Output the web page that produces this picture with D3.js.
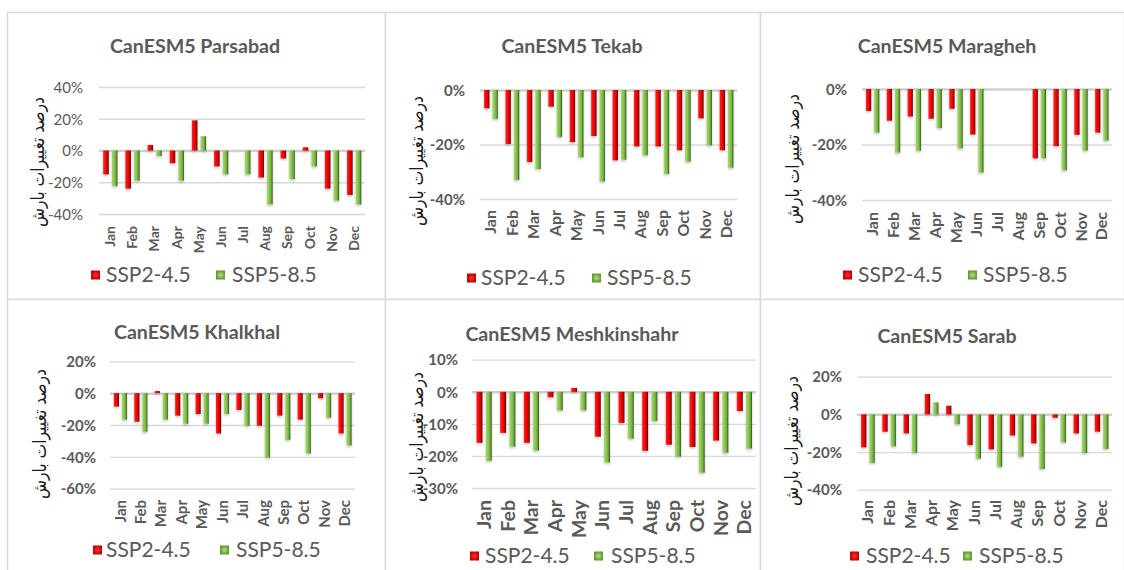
<!DOCTYPE html>
<html>
<head>
<meta charset="utf-8">
<script src="https://cdn.jsdelivr.net/npm/d3@7/dist/d3.min.js"></script>
<style>
  html, body { margin: 0; padding: 0; background: #fff; }
  svg { display: block; }
</style>
</head>
<body>
<svg id="chart" width="1124" height="570"></svg>
<script>
// ---------------- DATA ----------------
const months = ["Jan","Feb","Mar","Apr","May","Jun","Jul","Aug","Sep","Oct","Nov","Dec"];
const seriesNames = ["SSP2-4.5","SSP5-8.5"];
const stationTitles = ["CanESM5 Parsabad","CanESM5 Tekab","CanESM5 Maragheh","CanESM5 Khalkhal","CanESM5 Meshkinshahr","CanESM5 Sarab"];
const yAxisTitle = "درصد تغییرات بارش";

// percent change in precipitation
const parsabadSSP245 = [-15, -24, 3.5, -8, 19, -10, 0, -17, -5, 2, -24, -28];
const parsabadSSP585 = [-22.5, -19, -3.5, -19, 9, -15, -15, -34, -18, -10, -31.5, -34];
const tekabSSP245 = [-6.7, -19.8, -26.4, -6.1, -19.1, -16.9, -25.8, -20.7, -20.7, -22.1, -10.4, -22.1];
const tekabSSP585 = [-10.6, -33, -29, -17.2, -24.7, -33.6, -25.6, -24, -30.8, -26.3, -20.3, -28.5];
const maraghehSSP245 = [-7.9, -11.4, -9.9, -10.7, -7.1, -16.4, 0, 0, -25, -20.6, -16.5, -15.7];
const maraghehSSP585 = [-15.7, -22.9, -22.2, -14.1, -21.4, -30.1, 0, 0, -25, -29.3, -22.2, -18.6];
const khalkhalSSP245 = [-8.4, -17.9, 1.3, -14.1, -13.1, -25.3, -10.5, -20.4, -14.1, -16.6, -3.2, -25.3];
const khalkhalSSP585 = [-16.6, -24.2, -16.6, -19.2, -19.2, -13.1, -20.4, -40.4, -29.3, -37.9, -15.4, -32.8];
const meshkinshahrSSP245 = [-15.9, -12.8, -15.9, -1.7, 1.2, -14, -9.7, -18.4, -16.5, -17.2, -15.2, -6];
const meshkinshahrSSP585 = [-21.5, -17.1, -18.3, -5.8, -5.8, -22, -14.6, -9.1, -20.2, -25.2, -19, -17.7];
const sarabSSP245 = [-17.5, -9.2, -10.1, 10.8, 4.6, -16.3, -18.6, -11.2, -15.4, -1.8, -10.1, -9.2];
const sarabSSP585 = [-25.8, -17, -20.4, 6.4, -5.3, -23.5, -27.8, -22.5, -29, -14.9, -20.5, -18.4];

// tick values (percent)
const parsabadTicks = [40, 20, 0, -20, -40];
const tekabTicks = [0, -20, -40];
const maraghehTicks = [0, -20, -40];
const khalkhalTicks = [20, 0, -20, -40, -60];
const meshkinshahrTicks = [10, 0, -10, -20, -30];
const sarabTicks = [20, 0, -20, -40];

// ---------------- LAYOUT (positions/styles only) ----------------
const panels = [
  { title: stationTitles[0], s1: parsabadSSP245, s2: parsabadSSP585, ticks: parsabadTicks,
    box: [7, 12, 378, 287], titleXY: [195, 53], px: [99, 365], py: [87, 214], tickX: 83, tickBold: false,
    yt: [38, 162], monthTop: 226, monthSize: 14, leg: { y: 275, r: 91, rt: 106, g: 216, gt: 232 } },
  { title: stationTitles[1], s1: tekabSSP245, s2: tekabSSP585, ticks: tekabTicks,
    box: [385, 12, 375, 287], titleXY: [572, 53], px: [480, 737], py: [90, 199], tickX: 465, tickBold: true,
    yt: [417, 161], monthTop: 210, monthSize: 16, leg: { y: 278, r: 467, rt: 481, g: 592, gt: 607 } },
  { title: stationTitles[2], s1: maraghehSSP245, s2: maraghehSSP585, ticks: maraghehTicks,
    box: [760, 12, 364, 287], titleXY: [947, 53], px: [862, 1112], py: [89, 200], tickX: 847, tickBold: true,
    yt: [793, 159], monthTop: 212, monthSize: 16, leg: { y: 275, r: 843, rt: 858, g: 968, gt: 983 } },
  { title: stationTitles[3], s1: khalkhalSSP245, s2: khalkhalSSP585, ticks: khalkhalTicks,
    box: [7, 299, 378, 290], titleXY: [197, 339], px: [110, 355], py: [361.3, 488.7], tickX: 96, tickBold: true,
    yt: [40, 434], monthTop: 500, monthSize: 15, leg: { y: 550, r: 93, rt: 106, g: 220, gt: 236 } },
  { title: stationTitles[4], s1: meshkinshahrSSP245, s2: meshkinshahrSSP585, ticks: meshkinshahrTicks,
    box: [385, 299, 375, 290], titleXY: [572, 341], px: [472, 756], py: [359.7, 488], tickX: 458, tickBold: true,
    yt: [417, 437], monthTop: 500, monthSize: 19.5, leg: { y: 556, r: 470, rt: 485, g: 594, gt: 611 } },
  { title: stationTitles[5], s1: sarabSSP245, s2: sarabSSP585, ticks: sarabTicks,
    box: [760, 299, 364, 290], titleXY: [947, 343], px: [857, 1112], py: [376.7, 489.7], tickX: 842, tickBold: true,
    yt: [792, 441], monthTop: 500, monthSize: 16, leg: { y: 556, r: 850, rt: 866, g: 963, gt: 979 } }
];

const svg = d3.select("#chart");
const defs = svg.append("defs");

function grad(id, stops) {
  const g = defs.append("linearGradient").attr("id", id)
    .attr("x1", "0%").attr("x2", "100%").attr("y1", "0%").attr("y2", "0%");
  stops.forEach(s => g.append("stop").attr("offset", s[0]).attr("stop-color", s[1]));
}
grad("gRed", [["0%", "#ff2020"], ["55%", "#f00000"], ["78%", "#c00000"], ["100%", "#4a0000"]]);
grad("gGreen", [["0%", "#a6d870"], ["50%", "#86c04a"], ["78%", "#62a036"], ["100%", "#2a4816"]]);
const lg = defs.append("radialGradient").attr("id", "gGreenLeg");
lg.append("stop").attr("offset", "0%").attr("stop-color", "#b4e07a");
lg.append("stop").attr("offset", "100%").attr("stop-color", "#5e9a30");
const lr = defs.append("radialGradient").attr("id", "gRedLeg");
lr.append("stop").attr("offset", "0%").attr("stop-color", "#ff3030");
lr.append("stop").attr("offset", "100%").attr("stop-color", "#c00000");

const shadow = defs.append("filter").attr("id", "shadow")
  .attr("x", "-50%").attr("y", "-20%").attr("width", "200%").attr("height", "140%");
shadow.append("feDropShadow").attr("dx", 0).attr("dy", 1.5).attr("stdDeviation", 1.2)
  .attr("flood-color", "#000").attr("flood-opacity", 0.25);

const textColor = "#595959";
const fontMain = "Lato, 'Open Sans', sans-serif";

panels.forEach(p => {
  const g = svg.append("g");
  // border
  g.append("rect")
    .attr("x", p.box[0] + 0.5).attr("y", p.box[1] + 0.5)
    .attr("width", p.box[2]).attr("height", p.box[3])
    .attr("fill", "#fff").attr("stroke", "#d9d9d9").attr("stroke-width", 1.5);

  // title
  g.append("text").attr("x", p.titleXY[0]).attr("y", p.titleXY[1])
    .attr("text-anchor", "middle").attr("font-family", fontMain)
    .attr("font-weight", "bold").attr("font-size", 19.6).attr("fill", textColor)
    .text(p.title);

  const y = d3.scaleLinear()
    .domain([d3.min(p.ticks), d3.max(p.ticks)])
    .range([p.py[1], p.py[0]]);
  const x = d3.scaleBand().domain(months).range(p.px).paddingInner(0).paddingOuter(0);
  const step = x.bandwidth();

  // gridlines via axis
  const grid = d3.axisLeft(y).tickValues(p.ticks).tickSize(-(p.px[1] - p.px[0])).tickFormat("");
  const gg = g.append("g").attr("transform", `translate(${p.px[0]},0)`).call(grid);
  gg.select(".domain").remove();
  gg.selectAll(".tick line").attr("stroke", "#d9d9d9").attr("stroke-width", 1.3);
  gg.selectAll(".tick").filter(d => d === 0).select("line")
    .attr("stroke", "#d0d0d0").attr("stroke-width", 2.5);

  // tick labels via axis
  const ya = d3.axisLeft(y).tickValues(p.ticks).tickSize(0).tickFormat(d => d + "%");
  const ga = g.append("g").attr("transform", `translate(${p.tickX},0)`).call(ya);
  ga.select(".domain").remove();
  ga.selectAll("text").attr("x", 0).attr("dy", "0.35em")
    .attr("font-family", fontMain).attr("font-size", 15)
    .attr("font-weight", p.tickBold ? "bold" : "normal").attr("fill", textColor);

  // bars
  const offs = [0.19, 0.58], bw = 0.25;
  [p.s1, p.s2].forEach((vals, si) => {
    g.append("g").attr("filter", "url(#shadow)")
      .selectAll("rect").data(vals.map((v, i) => ({ m: months[i], v })))
      .join("rect")
      .attr("x", d => x(d.m) + offs[si] * step)
      .attr("width", bw * step)
      .attr("y", d => y(Math.max(0, d.v)))
      .attr("height", d => Math.abs(y(d.v) - y(0)))
      .attr("fill", si === 0 ? "url(#gRed)" : "url(#gGreen)");
  });

  // month labels via bottom axis
  const xa = d3.axisBottom(x).tickSize(0);
  const gx = g.append("g").attr("transform", `translate(0,${p.monthTop})`).call(xa);
  gx.select(".domain").remove();
  gx.selectAll("text")
    .attr("transform", "rotate(-90)")
    .attr("text-anchor", "end").attr("x", 0).attr("y", 0).attr("dy", "0.36em")
    .attr("font-family", fontMain).attr("font-size", p.monthSize).attr("font-weight", "bold")
    .attr("fill", textColor);

  // y-axis title
  g.append("text")
    .attr("transform", `translate(${p.yt[0]},${p.yt[1]}) rotate(-90)`)
    .attr("text-anchor", "middle").attr("dy", "0.35em")
    .attr("font-family", "'DejaVu Sans', sans-serif").attr("font-size", 18)
    .attr("textLength", 130).attr("lengthAdjust", "spacingAndGlyphs")
    .attr("fill", "#1a1a1a").attr("direction", "rtl")
    .text(yAxisTitle);

  // legend
  const L = p.leg, sq = 9;
  g.append("rect").attr("x", L.r).attr("y", L.y - sq / 2).attr("width", sq).attr("height", sq)
    .attr("fill", "url(#gRedLeg)");
  g.append("text").attr("x", L.rt).attr("y", L.y).attr("dy", "0.35em")
    .attr("font-family", fontMain).attr("font-size", 21).attr("fill", textColor)
    .text(seriesNames[0]);
  g.append("rect").attr("x", L.g).attr("y", L.y - sq / 2).attr("width", sq).attr("height", sq)
    .attr("fill", "url(#gGreenLeg)");
  g.append("text").attr("x", L.gt).attr("y", L.y).attr("dy", "0.35em")
    .attr("font-family", fontMain).attr("font-size", 21).attr("fill", textColor)
    .text(seriesNames[1]);
});
</script>
</body>
</html>
